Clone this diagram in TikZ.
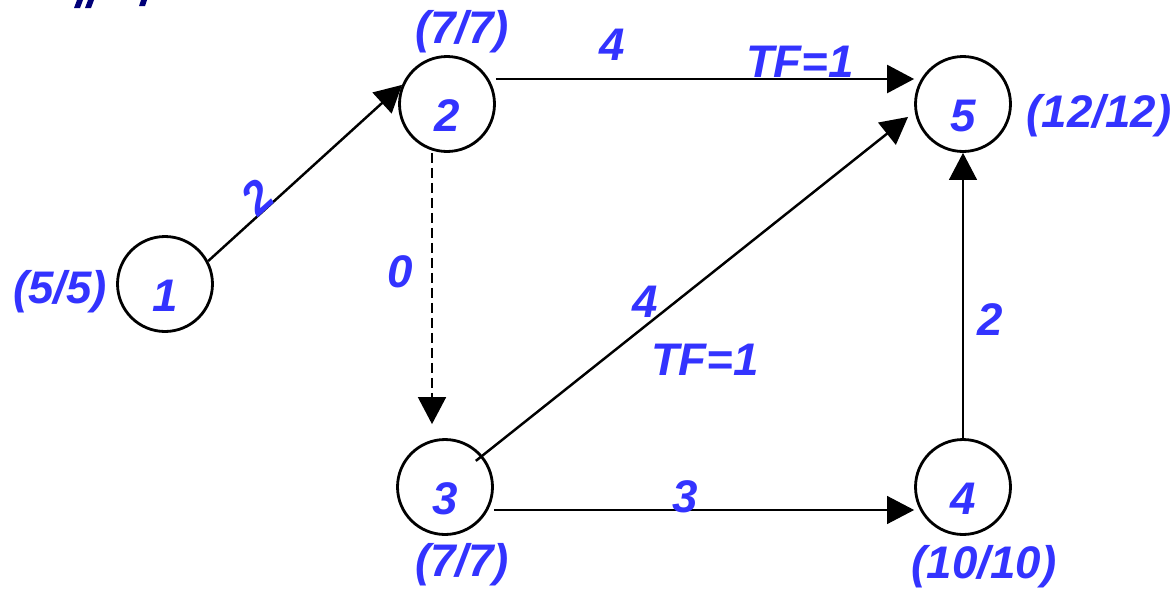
\documentclass[tikz,border=0pt]{standalone}
\usepackage{fontspec}
\setmainfont{Liberation Sans}
\usepackage{xcolor}
\definecolor{pnblue}{RGB}{51,51,255}
\definecolor{pnnavy}{RGB}{0,0,120}
\usetikzlibrary{arrows.meta,positioning,calc}
\newcommand\evtfont{\fontsize{26}{30}\selectfont\bfseries\itshape}

\begin{document}
\begin{tikzpicture}[x=0.02cm,y=-0.02cm,
  evt/.style={draw,circle,line width=1.6pt,minimum size=1.9cm,inner sep=0pt,
    text=pnblue,font=\evtfont,text height=1.1cm,text depth=0cm},
  tag/.style={text=pnblue,font=\evtfont,inner sep=0pt},
  act/.style={line width=1.4pt,-{Triangle[length=0.54cm,width=0.56cm]}},
  dummy/.style={act,line width=1pt,dash pattern=on 0.2cm off 0.1cm},
  thinact/.style={act,line width=0.6pt}]
  \useasboundingbox (0,0) rectangle (1176,589);
  % cut-off heading
  \fill[pnnavy] (77,0) -- (83,0) -- (80,8) -- (74,8) -- cycle;
  \fill[pnnavy] (88,0) -- (94,0) -- (91,8) -- (85,8) -- cycle;
  \fill[pnnavy] (141,0) -- (147,0) -- (145,6) -- (139,6) -- cycle;
  % events
  \node[evt] (n1) at (165,284) {1};
  \node[evt] (n2) at (447,104) {2};
  \node[evt] (n3) at (445,487) {3};
  \node[evt] (n4) at (963,487) {4};
  \node[evt] (n5) at (963,104) {5};
  % early/late times
  \node[tag] (t1) at (60,292) {(5/5)};
  \node[tag] (t2) at (462,32) {(7/7)};
  \node[tag] (t3) at (462,565) {(7/7)};
  \node[tag] (t4) at (984,567) {(10/10)};
  \node[tag] (t5) at (1099,116) {(12/12)};
  % activities
  \draw[act] (n1.28) -- (n2.157);
  \draw[act] ([yshift=0.5cm]n2.east) -- ([yshift=0.5cm]n5.west);
  \draw[dummy,shorten >=0.28cm] ([xshift=-0.3cm]n2.south) -- ([xshift=-0.3cm]n2.south |- n3.north);
  \draw[act,shorten <=-0.17cm,shorten >=0.17cm] (n3.40) -- (n5.189);
  \draw[thinact] ([yshift=-0.46cm]n3.east) -- ([yshift=-0.46cm]n4.west);
  \draw[thinact] (n4.north) -- (n5.south);
  % durations
  \node[tag,rotate=42] (d12) at (257,197) {2};
  \node[tag] (d23) at (400,272) {0};
  \node[tag] (d25) at (612,45) {4};
  \node[tag] (f25) at (800,62) {TF=1};
  \node[tag] (d35) at (645,302) {4};
  \node[tag] (f35) at (705,360) {TF=1};
  \node[tag] (d34) at (685,497) {3};
  \node[tag] (d45) at (990,320) {2};
\end{tikzpicture}
\end{document}
